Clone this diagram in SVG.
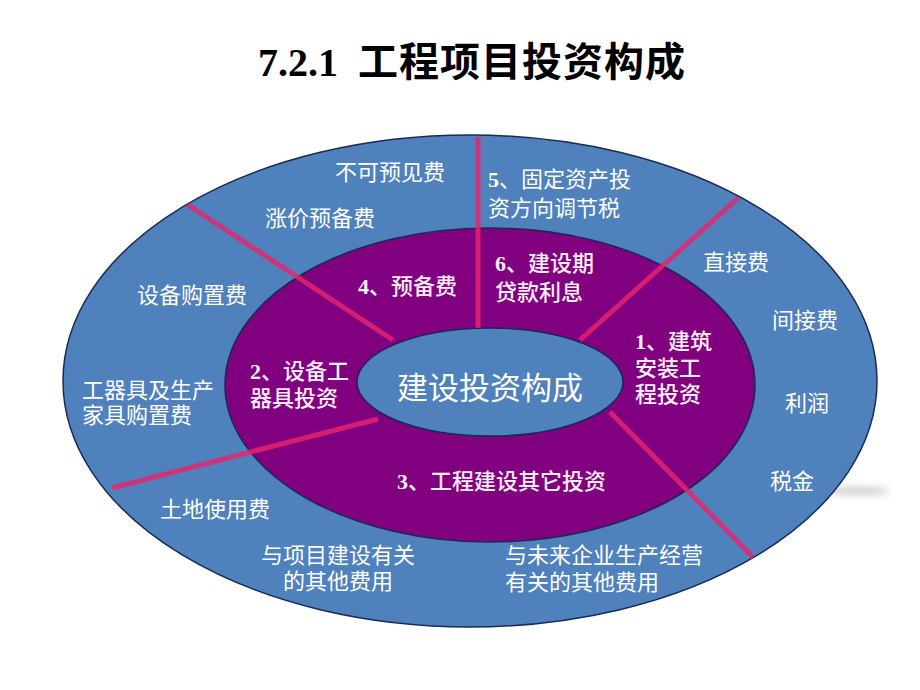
<svg xmlns="http://www.w3.org/2000/svg" width="920" height="690" viewBox="0 0 920 690">
  <defs>
    <filter id="blur" x="-50%" y="-100%" width="200%" height="300%">
      <feGaussianBlur stdDeviation="3.5"/>
    </filter>
    <style>
      .ring-outer { fill: #4f81bd; stroke: #1a2a55; stroke-width: 1.5; }
      .ring-mid { fill: #800080; stroke: #1a2a55; stroke-width: 1.5; }
      .ring-inner { fill: #4f81bd; stroke: #1a2a55; stroke-width: 1.5; }
      .conn { stroke: #e8246e; stroke-opacity: 0.82; stroke-width: 5; stroke-linecap: butt; fill: none; }
      .lbl { font-family: "Liberation Serif", "Noto Sans CJK SC", sans-serif; font-size: 22px; fill: #ffffff; }
      .plbl { font-family: "Liberation Serif", "Noto Sans CJK SC", sans-serif; font-size: 22px; font-weight: 500; fill: #fbeefb; }
      .num { font-weight: bold; }
      .center { font-family: "Noto Sans CJK SC", sans-serif; font-size: 31px; fill: #ffffff; }
      .title-num { font-family: "Liberation Serif", serif; font-size: 40px; font-weight: bold; fill: #000000; }
      .title-cn { font-family: "Noto Sans CJK SC", sans-serif; font-size: 40px; font-weight: bold; fill: #000000; }
    </style>
  </defs>
  <rect width="920" height="690" fill="#ffffff"/>

  <g id="title">
    <text class="title-num" x="258" y="76">7.2.1</text>
    <text class="title-cn" x="358" y="76" letter-spacing="1">工程项目投资构成</text>
  </g>

  <g id="shadow">
    <ellipse cx="858" cy="491" rx="32" ry="4.5" fill="#d2d2d2" filter="url(#blur)"/>
  </g>

  <g id="outer-ring">
    <ellipse class="ring-outer" cx="470" cy="381" rx="407" ry="246"/>
  </g>
  <g id="middle-ring">
    <ellipse class="ring-mid" cx="490" cy="385" rx="265" ry="157"/>
  </g>
  <g id="inner-core">
    <ellipse class="ring-inner" cx="490" cy="382" rx="133" ry="54"/>
  </g>

  <g id="connectors">
    <line class="conn" x1="188" y1="205" x2="393" y2="340"/>
    <line class="conn" x1="478" y1="137" x2="478" y2="328"/>
    <line class="conn" x1="738" y1="198" x2="580" y2="340"/>
    <line class="conn" x1="610" y1="412" x2="753" y2="557"/>
    <line class="conn" x1="378" y1="419" x2="112" y2="488"/>
  </g>

  <g id="node-center">
    <text class="center" x="490" y="399" text-anchor="middle">建设投资构成</text>
  </g>

  <g id="node-1">
    <text class="plbl" x="635" y="349"><tspan class="num">1</tspan>、建筑</text>
    <text class="plbl" x="635" y="376">安装工</text>
    <text class="plbl" x="635" y="402">程投资</text>
  </g>
  <g id="node-2">
    <text class="plbl" x="250" y="379"><tspan class="num">2</tspan>、设备工</text>
    <text class="plbl" x="250" y="406">器具投资</text>
  </g>
  <g id="node-3">
    <text class="plbl" x="397" y="489"><tspan class="num">3</tspan>、工程建设其它投资</text>
  </g>
  <g id="node-4">
    <text class="plbl" x="358" y="294"><tspan class="num">4</tspan>、预备费</text>
  </g>
  <g id="node-5">
    <text class="lbl" x="488" y="187"><tspan class="num">5</tspan>、固定资产投</text>
    <text class="lbl" x="488" y="216">资方向调节税</text>
  </g>
  <g id="node-6">
    <text class="plbl" x="495" y="271"><tspan class="num">6</tspan>、建设期</text>
    <text class="plbl" x="495" y="300">贷款利息</text>
  </g>

  <g id="node-bukeyujianfei"><text class="lbl" x="335" y="180">不可预见费</text></g>
  <g id="node-zhangjiayubeifei"><text class="lbl" x="265" y="226">涨价预备费</text></g>
  <g id="node-shebeigouzhifei"><text class="lbl" x="137" y="303">设备购置费</text></g>
  <g id="node-gongqiju">
    <text class="lbl" x="82" y="398">工器具及生产</text>
    <text class="lbl" x="82" y="423">家具购置费</text>
  </g>
  <g id="node-tudi"><text class="lbl" x="160" y="517">土地使用费</text></g>
  <g id="node-xiangmu">
    <text class="lbl" x="338" y="563" text-anchor="middle">与项目建设有关</text>
    <text class="lbl" x="338" y="589" text-anchor="middle">的其他费用</text>
  </g>
  <g id="node-weilai">
    <text class="lbl" x="505" y="563">与未来企业生产经营</text>
    <text class="lbl" x="505" y="590">有关的其他费用</text>
  </g>
  <g id="node-zhijiefei"><text class="lbl" x="703" y="270">直接费</text></g>
  <g id="node-jianjiefei"><text class="lbl" x="772" y="328">间接费</text></g>
  <g id="node-lirun"><text class="lbl" x="785" y="411">利润</text></g>
  <g id="node-shuijin"><text class="lbl" x="770" y="489">税金</text></g>
</svg>
